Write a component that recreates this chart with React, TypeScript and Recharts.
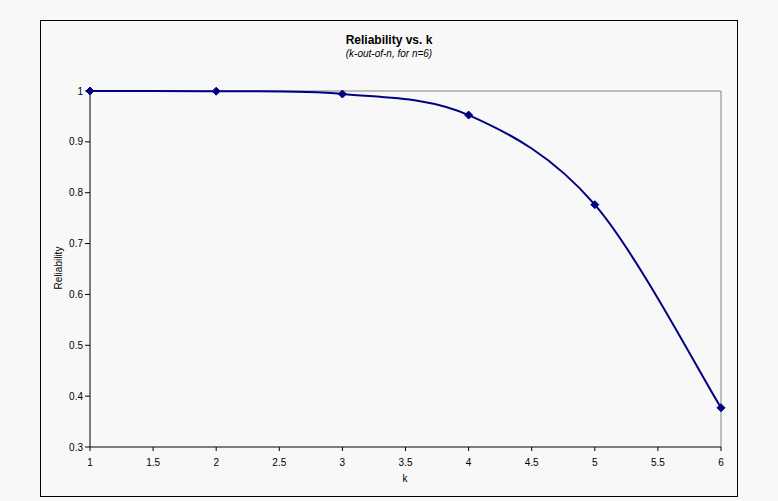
import { LineChart, Line, XAxis, YAxis, ReferenceLine } from 'recharts';

const kValues = [1, 2, 3, 4, 5, 6];
const reliability = [0.99999, 0.9996, 0.9941, 0.9527, 0.7765, 0.3771];
const xTicks = [1, 1.5, 2, 2.5, 3, 3.5, 4, 4.5, 5, 5.5, 6];
const yTicks = [0.3, 0.4, 0.5, 0.6, 0.7, 0.8, 0.9, 1];

const data = kValues.map((k, i) => ({ k, r: reliability[i] }));

const font = 'Arial, "Liberation Sans", sans-serif';

// Excel-style smoothing: uniform Catmull-Rom through the points
function catmullRom(context: any) {
  let pts: number[][] = [];
  return {
    areaStart() {},
    areaEnd() {},
    lineStart() {
      pts = [];
    },
    point(x: number, y: number) {
      pts.push([+x, +y]);
    },
    lineEnd() {
      if (!pts.length) return;
      context.moveTo(pts[0][0], pts[0][1]);
      for (let i = 0; i < pts.length - 1; i++) {
        const p0 = pts[Math.max(i - 1, 0)];
        const p1 = pts[i];
        const p2 = pts[i + 1];
        const p3 = pts[Math.min(i + 2, pts.length - 1)];
        context.bezierCurveTo(
          p1[0] + (p2[0] - p0[0]) / 6,
          p1[1] + (p2[1] - p0[1]) / 6,
          p2[0] - (p3[0] - p1[0]) / 6,
          p2[1] - (p3[1] - p1[1]) / 6,
          p2[0],
          p2[1]
        );
      }
    },
  };
}

function Diamond(props: any) {
  const { cx, cy } = props;
  if (cx == null || cy == null) return null;
  const s = 4;
  return (
    <polygon
      points={`${cx},${cy - s} ${cx + s},${cy} ${cx},${cy + s} ${cx - s},${cy}`}
      fill="#000080"
      stroke="#000080"
    />
  );
}

export default function App() {
  return (
    <div
      style={{
        position: 'fixed',
        left: 0,
        top: 0,
        width: 778,
        height: 501,
        background: '#F8F8F8',
        fontFamily: font,
      }}
    >
      <div
        style={{
          position: 'absolute',
          left: 40,
          top: 20,
          width: 696,
          height: 475,
          border: '1px solid #000',
        }}
      />
      <div style={{ position: 'absolute', left: 0, width: 778, top: 33, textAlign: 'center', fontSize: 12, fontWeight: 'bold', color: '#000' }}>
        Reliability vs. k
      </div>
      <div style={{ position: 'absolute', left: 0, width: 778, top: 48, textAlign: 'center', fontSize: 10, fontStyle: 'italic', color: '#000' }}>
        (k-out-of-n, for n=6)
      </div>
      <div
        style={{
          position: 'absolute',
          left: 58,
          top: 268,
          transform: 'translate(-50%, -50%) rotate(-90deg)',
          fontSize: 10,
          color: '#000',
          whiteSpace: 'nowrap',
        }}
      >
        Reliability
      </div>
      <div style={{ position: 'absolute', left: 405, top: 473, transform: 'translateX(-50%)', fontSize: 10, color: '#000' }}>
        k
      </div>
      <div style={{ position: 'absolute', left: 0, top: 0 }}>
        <LineChart width={778} height={501} data={data} margin={{ top: 91, right: 57, bottom: 24, left: 50 }}>
          <XAxis
            dataKey="k"
            type="number"
            domain={[1, 6]}
            ticks={xTicks}
            interval={0}
            height={30}
            stroke="#000"
            tickSize={4}
            tickMargin={8}
            tick={{ fill: '#000', fontSize: 10, fontFamily: font }}
          />
          <YAxis
            type="number"
            domain={[0.3, 1]}
            ticks={yTicks}
            interval={0}
            width={40}
            stroke="#000"
            tickSize={5}
            tick={{ fill: '#000', fontSize: 10, fontFamily: font }}
          />
          <ReferenceLine y={1} stroke="#808080" />
          <ReferenceLine x={6} stroke="#808080" />
          <Line
            type={catmullRom as any}
            dataKey="r"
            stroke="#000080"
            strokeWidth={2}
            dot={<Diamond />}
            activeDot={false}
            isAnimationActive={false}
          />
        </LineChart>
      </div>
    </div>
  );
}
